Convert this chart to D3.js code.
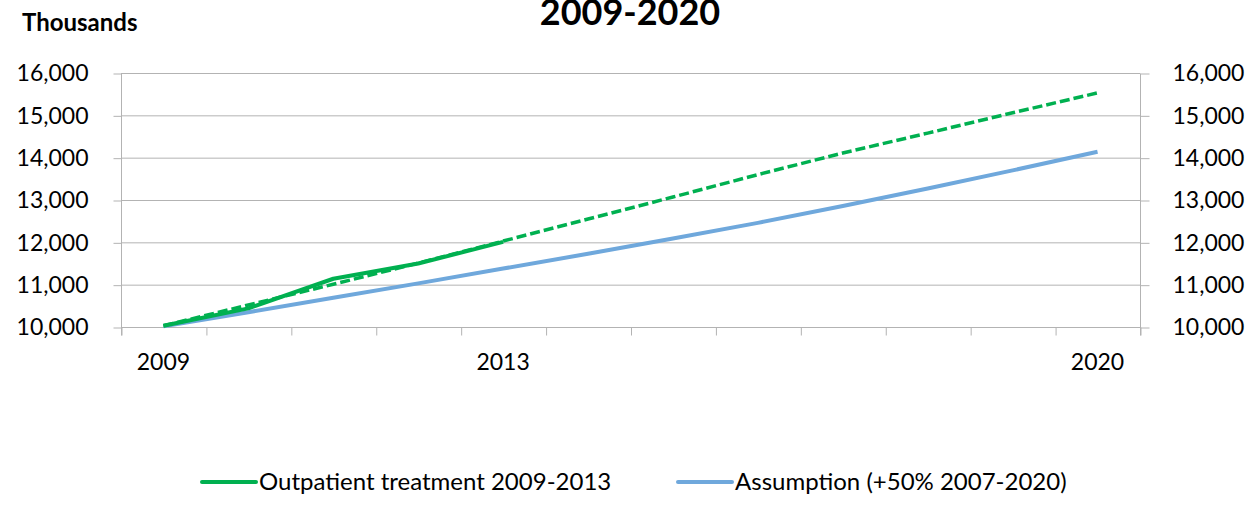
<!DOCTYPE html>
<html>
<head>
<meta charset="utf-8">
<script src="https://cdn.jsdelivr.net/npm/d3@7"></script>
<style>
  body { margin: 0; background: #fff; }
  text { font-family: Lato, "Open Sans", sans-serif; fill: #000; }
</style>
</head>
<body>
<svg id="chart"></svg>
<script>
// values (thousands)
var years = [2009, 2010, 2011, 2012, 2013, 2014, 2015, 2016, 2017, 2018, 2019, 2020];
var outpatient = [10030, 10440, 11140, 11500, 12010];
var outpatientTrend = [10030, 10520, 11010, 11510, 12030, 12550, 13070, 13600, 14110, 14580, 15060, 15530];
var assumption = [10020, 10350, 10690, 11030, 11380, 11730, 12090, 12460, 12860, 13270, 13700, 14140];
var yTicks = [10000, 11000, 12000, 13000, 14000, 15000, 16000];
var xLabels = [2009, 2013, 2020];
var seriesNames = ["Outpatient treatment 2009-2013", "Assumption (+50% 2007-2020)"];

var width = 1255, height = 505;
var plotLeft = 121, plotRight = 1140, plotTop = 73, plotBottom = 327;
var green = "#00b050", blue = "#6fa8dc", grid = "#b3b3b3";

var svg = d3.select("#chart").attr("width", width).attr("height", height);

var x = d3.scaleBand().domain(years).range([plotLeft, plotRight]).padding(0);
var y = d3.scaleLinear().domain([10000, 16000]).range([plotBottom, plotTop]);
var cx = function(yr) { return x(yr) + x.bandwidth() / 2; };

// title bits
svg.append("text").attr("x", 630).attr("y", 25).attr("text-anchor", "middle")
  .style("font-weight", "bold").style("font-size", "36px").text("2009-2020");
svg.append("text").attr("x", 22).attr("y", 31)
  .style("font-weight", "bold").style("font-size", "24px").text("Thousands");

// gridlines
svg.append("g").selectAll("line").data(yTicks.slice(1)).enter().append("line")
  .attr("x1", plotLeft).attr("x2", plotRight)
  .attr("y1", function(d) { return y(d) + 0.5; }).attr("y2", function(d) { return y(d) + 0.5; })
  .attr("stroke", grid).attr("stroke-width", 1);

// left + right axes
var yAxisL = d3.axisLeft(y).tickValues(yTicks).tickSize(8).tickPadding(25).tickFormat(d3.format(","));
var yAxisR = d3.axisRight(y).tickValues(yTicks).tickSize(9).tickPadding(23).tickFormat(d3.format(","));
var gl = svg.append("g").attr("transform", "translate(" + (plotLeft + 0.5) + ",0.5)").call(yAxisL);
var gr = svg.append("g").attr("transform", "translate(" + (plotRight + 0.5) + ",0.5)").call(yAxisR);

// bottom axis, ticks between categories
var boundaries = years.map(function(d) { return x(d); }).concat([plotRight]);
var xTickScale = d3.scaleLinear().domain([plotLeft, plotRight]).range([plotLeft, plotRight]);
var xAxis = d3.axisBottom(xTickScale).tickValues(boundaries).tickSize(8).tickFormat("");
var gx = svg.append("g").attr("transform", "translate(0.5," + (plotBottom + 0.5) + ")").call(xAxis);
gx.select(".domain").attr("d", "M" + plotLeft + ",0H" + plotRight);

[gl, gr, gx].forEach(function(g) {
  g.selectAll(".domain, .tick line").attr("stroke", grid);
  g.selectAll(".tick text").style("font-size", "23px").style("font-family", "Lato, 'Open Sans', sans-serif");
});
gl.select(".domain").attr("d", "M0," + plotTop + "V" + (plotBottom + 8));
gr.select(".domain").attr("d", "M0," + plotTop + "V" + (plotBottom + 8));

svg.append("g").selectAll("text").data(xLabels).enter().append("text")
  .attr("x", function(d) { return cx(d); }).attr("y", 370).attr("text-anchor", "middle")
  .style("font-size", "23px").text(function(d) { return d; });

// series
var line = d3.line().x(function(d, i) { return cx(years[i]); }).y(function(d) { return y(d); });

svg.append("path").datum(assumption).attr("d", line)
  .attr("fill", "none").attr("stroke", blue).attr("stroke-width", 4).attr("stroke-linejoin", "round");
svg.append("path").datum(outpatient).attr("d", line)
  .attr("fill", "none").attr("stroke", green).attr("stroke-width", 4).attr("stroke-linejoin", "round");
svg.append("path").datum(outpatientTrend).attr("d", line)
  .attr("fill", "none").attr("stroke", green).attr("stroke-width", 3.5).attr("stroke-dasharray", "10,4");

// legend
var legend = [{ name: seriesNames[0], color: green, x: 202 }, { name: seriesNames[1], color: blue, x: 678 }];
var lg = svg.append("g").selectAll("g").data(legend).enter().append("g")
  .attr("transform", function(d) { return "translate(" + d.x + ",482)"; });
lg.append("line").attr("x1", 0).attr("x2", 54).attr("y1", 0).attr("y2", 0)
  .attr("stroke", function(d) { return d.color; }).attr("stroke-width", 4).attr("stroke-linecap", "round");
lg.append("text").attr("x", 57).attr("y", 8).style("font-size", "24px").text(function(d) { return d.name; });
</script>
</body>
</html>
